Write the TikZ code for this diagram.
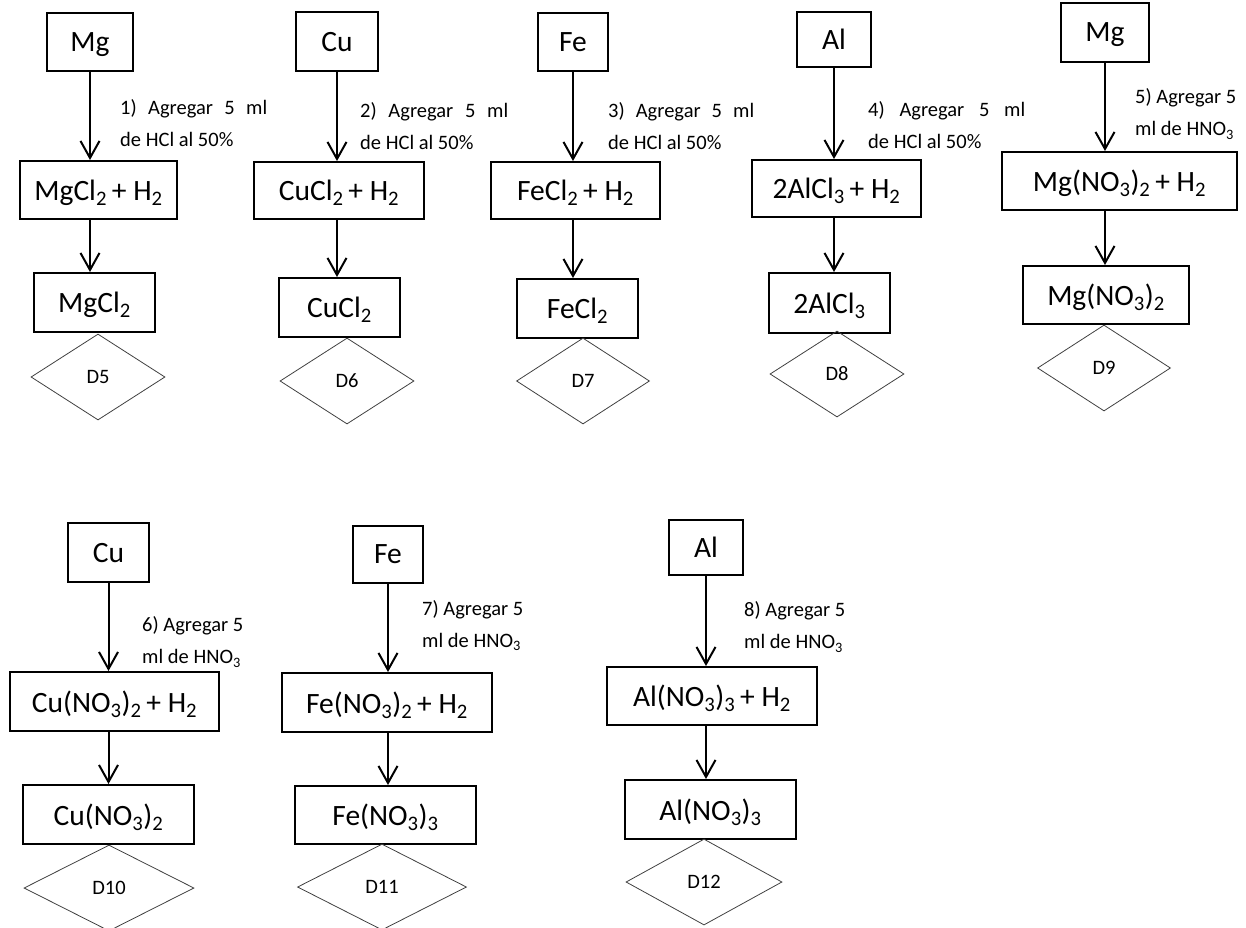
\documentclass[tikz,border=0pt]{standalone}
\usepackage{fontspec}
\setmainfont{Carlito}
\usetikzlibrary{arrows.meta,shapes.geometric}
\newcommand{\boxfont}{\fontsize{29.5}{35}\selectfont}
\newcommand{\notefont}{\fontsize{20.5}{32}\selectfont}
\newcommand{\ix}[1]{\textsubscript{#1}}
\newcommand{\fullline}[2]{\makebox[#1][s]{#2}}

\begin{document}
\begin{tikzpicture}[x=1pt,y=-1pt,
  species/.style={draw,line width=2pt,inner sep=0pt,font=\boxfont,
                  text depth=0pt},
  wh/.style 2 args={minimum width=#1pt,minimum height=#2pt},
  sample/.style={diamond,draw=black!75,line width=0.8pt,inner sep=0pt,
                 font=\notefont},
  flow/.style={line width=2pt,
               -{Straight Barb[length=17pt,width=19pt,line width=2pt]}},
  recipe/.style={font=\notefont,align=left,anchor=west,inner sep=0pt}
]
\useasboundingbox (0,0) rectangle (1246,927);

% first row: HCl
\node[species,wh={86}{58}] (mg) at (90,42) {Mg};
\node[species,wh={157}{58}] (mgh) at (98.5,190) {MgCl\ix{2}\,+ H\ix{2}};
\node[species,wh={121}{59}] (mgc) at (94.5,302.5) {MgCl\ix{2}};
\node[sample,minimum width=134pt,minimum height=86pt] (d5) at (98,377) {D5};
\draw[flow] (mg.south) -- (mg.south |- mgh.north);
\draw[flow] (mgh.south -| mg) -- (mg |- mgc.north);
\node[recipe] (n1) at (120,123.5)
  {\fullline{147pt}{1) Agregar 5 ml}\\de HCl al 50\%};

\node[species,wh={82}{59}] (cu) at (337,41.5) {Cu};
\node[species,wh={170}{57}] (cuh) at (339,190.5) {CuCl\ix{2}\,+ H\ix{2}};
\node[species,wh={121}{59}] (cuc) at (339.5,307.5) {CuCl\ix{2}};
\node[sample,minimum width=134pt,minimum height=86pt] (d6) at (347,381) {D6};
\draw[flow] (cu.south) -- (cu.south |- cuh.north);
\draw[flow] (cuh.south -| cu) -- (cu |- cuc.north);
\node[recipe] (n2) at (360,126)
  {\fullline{148pt}{2) Agregar 5 ml}\\de HCl al 50\%};

\node[species,wh={70}{58}] (fe) at (573,42) {Fe};
\node[species,wh={169}{57}] (feh) at (575.5,190.5) {FeCl\ix{2}\,+ H\ix{2}};
\node[species,wh={121}{59}] (fec) at (577.5,308.5) {FeCl\ix{2}};
\node[sample,minimum width=133pt,minimum height=86pt] (d7) at (583,381) {D7};
\draw[flow] (fe.south) -- (fe.south |- feh.north);
\draw[flow] (feh.south -| fe) -- (fe |- fec.north);
\node[recipe] (n3) at (608,126)
  {\fullline{146pt}{3) Agregar 5 ml}\\de HCl al 50\%};

\node[species,wh={74}{55}] (al) at (834,39.5) {Al};
\node[species,wh={169}{57}] (alh) at (836.5,188.5) {2AlCl\ix{3}\,+ H\ix{2}};
\node[species,wh={121}{60}] (alc) at (829.5,303) {2AlCl\ix{3}};
\node[sample,minimum width=134pt,minimum height=86pt] (d8) at (837,374) {D8};
\draw[flow] (al.south) -- (al.south |- alh.north);
\draw[flow] (alh.south -| al) -- (al |- alc.north);
\node[recipe] (n4) at (868,125)
  {\fullline{157pt}{4) Agregar 5 ml}\\de HCl al 50\%};

% first row: HNO3
\node[species,wh={88}{59}] (mgn) at (1105,32.5) {Mg};
\node[species,wh={235}{58}] (mgnh) at (1119.5,181) {Mg(NO\ix{3})\ix{2}\,+ H\ix{2}};
\node[species,wh={166}{58}] (mgnc) at (1106,295) {Mg(NO\ix{3})\ix{2}};
\node[sample,minimum width=133pt,minimum height=86pt] (d9) at (1104,368) {D9};
\draw[flow] (mgn.south) -- (mgn.south |- mgnh.north);
\draw[flow] (mgnh.south -| mgn) -- (mgn |- mgnc.north);
\node[recipe] (n5) at (1135,114) {5) Agregar 5\\ml de HNO\ix{3}};

% second row
\node[species,wh={81}{59}] (cun) at (108.5,552.5) {Cu};
\node[species,wh={209}{59}] (cunh) at (114.5,701.5) {Cu(NO\ix{3})\ix{2}\,+ H\ix{2}};
\node[species,wh={171}{59}] (cunc) at (108.5,814.5) {Cu(NO\ix{3})\ix{2}};
\node[sample,minimum width=170pt,minimum height=86pt] (d10) at (109,888) {D10};
\draw[flow] (cun.south) -- (cun.south |- cunh.north);
\draw[flow] (cunh.south -| cun) -- (cun |- cunc.north);
\node[recipe] (n6) at (142,642) {6) Agregar 5\\ml de HNO\ix{3}};

\node[species,wh={70}{57}] (fen) at (388,554.5) {Fe};
\node[species,wh={210}{59}] (fenh) at (387,702.5) {Fe(NO\ix{3})\ix{2}\,+ H\ix{2}};
\node[species,wh={181}{58}] (fenc) at (385.5,815) {Fe(NO\ix{3})\ix{3}};
\node[sample,minimum width=169pt,minimum height=86pt] (d11) at (382,887) {D11};
\draw[flow] (fen.south) -- (fen.south |- fenh.north);
\draw[flow] (fenh.south -| fen) -- (fen |- fenc.north);
\node[recipe] (n7) at (422,625.5) {7) Agregar 5\\ml de HNO\ix{3}};

\node[species,wh={74}{55}] (aln) at (706,547.5) {Al};
\node[species,wh={210}{58}] (alnh) at (712,696) {Al(NO\ix{3})\ix{3}\,+ H\ix{2}};
\node[species,wh={171}{59}] (alnc) at (710.5,809.5) {Al(NO\ix{3})\ix{3}};
\node[sample,minimum width=156pt,minimum height=86pt] (d12) at (704,882) {D12};
\draw[flow] (aln.south) -- (aln.south |- alnh.north);
\draw[flow] (alnh.south -| aln) -- (aln |- alnc.north);
\node[recipe] (n8) at (744,627) {8) Agregar 5\\ml de HNO\ix{3}};
\end{tikzpicture}
\end{document}
